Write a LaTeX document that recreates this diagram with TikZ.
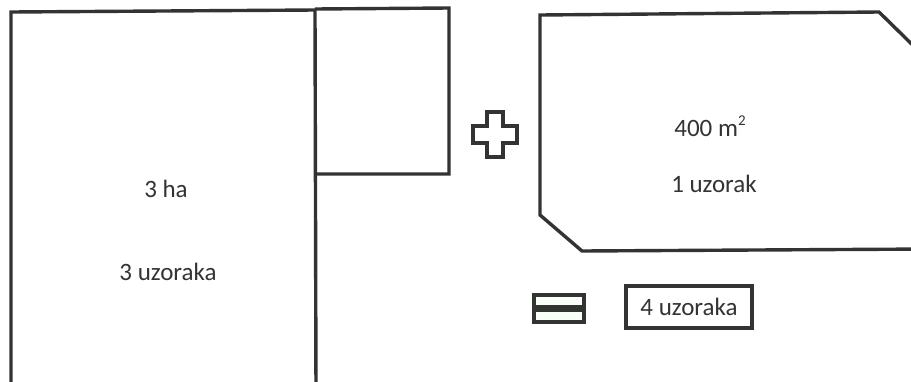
\documentclass[tikz,border=0pt]{standalone}
\usepackage{fontspec}
\setmainfont{Carlito}
\begin{document}
\begin{tikzpicture}[x=1pt,y=-1pt,
  edge/.style={draw=black!80,line width=3.4pt,line join=miter},
  sym/.style={draw=black!80,line width=3.2pt,line join=miter},
  lbl/.style={font=\fontsize{25}{30}\selectfont,text=black!80,inner sep=0pt}]
\useasboundingbox[fill=white] (0,0) rectangle (911,381);
% left big field
\draw[edge] (11,395) -- (11,12) -- (315,10) -- (316,395);
% small square
\draw[edge] (315,9) -- (449,8) -- (449,174) -- (316,174);
\node[lbl] (a1) at (166,189) {3 ha};
\node[lbl] (a2) at (168,272) {3 uzoraka};
% plus sign
\draw[sym] (487,112) -- (503,112) -- (503,126) -- (517,126) -- (517,143) -- (503,143) -- (503,157) -- (487,157) -- (487,143) -- (473,143) -- (473,126) -- (487,126) -- cycle;
% right polygon
\draw[edge] (930,62) -- (879,12) -- (540,15) -- (540,215) -- (582,251) -- (930,249);
\node[lbl] (b1) at (710,126) {400 m\raisebox{0.45em}{\fontsize{15}{15}\selectfont 2}};
\node[lbl] (b2) at (714,184) {1 uzorak};
% equals sign
\draw[sym,fill=green!3] (534,295) rectangle (584,307);
\draw[sym,fill=green!3] (534,310) rectangle (584,322);
% result box
\node[lbl,draw=black!80,line width=3.4pt,minimum width=126pt,minimum height=42pt,inner sep=0pt] (res) at (689,307) {4 uzoraka};
\end{tikzpicture}
\end{document}
